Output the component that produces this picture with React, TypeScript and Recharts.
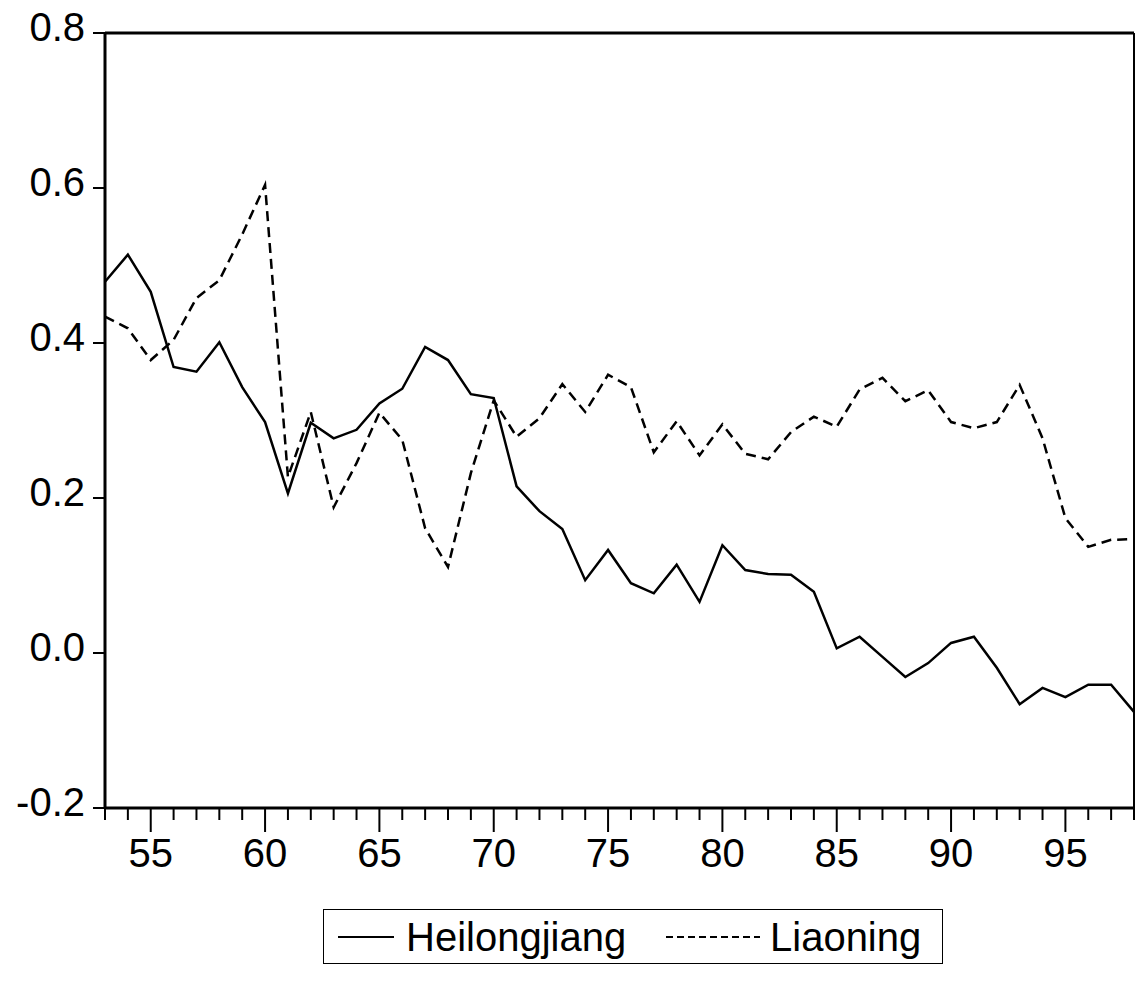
import React from 'react'
import { LineChart, Line, XAxis, YAxis, ReferenceLine } from 'recharts'

// years 1953..1998, shown as two-digit labels
const years = [
  53, 54, 55, 56, 57, 58, 59, 60, 61, 62, 63, 64, 65, 66, 67, 68, 69, 70, 71, 72, 73, 74, 75,
  76, 77, 78, 79, 80, 81, 82, 83, 84, 85, 86, 87, 88, 89, 90, 91, 92, 93, 94, 95, 96, 97, 98,
]

const heilongjiang = [
  0.479, 0.514, 0.466, 0.369, 0.363, 0.401, 0.343, 0.298, 0.206, 0.297,
  0.277, 0.288, 0.322, 0.341, 0.395, 0.378, 0.334, 0.329, 0.215, 0.183,
  0.16, 0.094, 0.133, 0.09, 0.077, 0.114, 0.066, 0.139, 0.107, 0.102,
  0.101, 0.079, 0.006, 0.021, -0.005, -0.031, -0.013, 0.013, 0.021, -0.019,
  -0.066, -0.045, -0.057, -0.041, -0.041, -0.076,
]

const liaoning = [
  0.434, 0.419, 0.378, 0.404, 0.458, 0.481, 0.54, 0.604, 0.227, 0.311,
  0.188, 0.245, 0.31, 0.275, 0.161, 0.111, 0.232, 0.326, 0.279, 0.303,
  0.347, 0.311, 0.359, 0.343, 0.259, 0.299, 0.255, 0.295, 0.257, 0.25,
  0.285, 0.305, 0.292, 0.34, 0.355, 0.325, 0.339, 0.298, 0.29, 0.298,
  0.346, 0.277, 0.174, 0.137, 0.146, 0.147,
]

const yTicks = [-0.2, 0, 0.2, 0.4, 0.6, 0.8]

const FONT = '"Liberation Sans", Arial, Helvetica, sans-serif'

const data = years.map((yr, i) => ({ year: yr, heilongjiang: heilongjiang[i], liaoning: liaoning[i] }))

// every year gets a tick, every fifth a longer one with a label
function YearTick(props: any) {
  const { x, y, payload } = props
  const major = payload.value % 5 === 0
  return (
    <g>
      <line x1={x} y1={y} x2={x} y2={y + (major ? 24 : 12)} stroke="#000" strokeWidth={2} />
      {major && (
        <text x={x} y={y + 59} textAnchor="middle" fontSize={40} fontFamily={FONT} fill="#000">
          {payload.value}
        </text>
      )}
    </g>
  )
}

function ValueTick(props: any) {
  const { x, y, payload } = props
  return (
    <text x={x} y={y + 8} textAnchor="end" fontSize={40} fontFamily={FONT} fill="#000">
      {payload.value.toFixed(1)}
    </text>
  )
}

function LegendBox() {
  return (
    <div
      style={{
        position: 'absolute',
        left: 323,
        top: 909,
        width: 618,
        height: 53,
        border: '1.5px solid #000',
      }}
    >
      <svg width={618} height={53} style={{ position: 'absolute', left: 0, top: 0 }}>
        <line x1={14} y1={27} x2={70} y2={27} stroke="#000" strokeWidth={2} />
        <text x={82} y={41} fontSize={40} fontFamily={FONT}>Heilongjiang</text>
        <line x1={342} y1={27} x2={436} y2={27} stroke="#000" strokeWidth={2} strokeDasharray="7 4" />
        <text x={446} y={41} fontSize={40} fontFamily={FONT}>Liaoning</text>
      </svg>
    </div>
  )
}

export default function App() {
  return (
    <div style={{ position: 'absolute', left: 0, top: 0, width: 1136, height: 988, background: '#fff' }}>
      <LineChart width={1136} height={988} data={data} margin={{ top: 33, right: 2, bottom: 0, left: 0 }}>
        <XAxis
          dataKey="year"
          type="number"
          domain={[53, 98]}
          ticks={years}
          interval={0}
          height={180}
          tickLine={false}
          tickSize={0}
          tickMargin={0}
          tick={<YearTick />}
          axisLine={{ stroke: '#000', strokeWidth: 3 }}
        />
        <YAxis
          type="number"
          domain={[-0.2, 0.8]}
          ticks={yTicks}
          width={105}
          tickSize={12}
          tickMargin={8}
          tick={<ValueTick />}
          tickLine={{ stroke: '#000', strokeWidth: 2 }}
          axisLine={{ stroke: '#000', strokeWidth: 3 }}
        />
        <ReferenceLine y={0.8} stroke="#000" strokeWidth={3} />
        <ReferenceLine x={98} stroke="#000" strokeWidth={2} />
        <Line
          type="linear"
          dataKey="heilongjiang"
          stroke="#000"
          strokeWidth={2.5}
          dot={false}
          isAnimationActive={false}
        />
        <Line
          type="linear"
          dataKey="liaoning"
          stroke="#000"
          strokeWidth={2.5}
          strokeDasharray="10 6"
          dot={false}
          isAnimationActive={false}
        />
      </LineChart>
      <LegendBox />
    </div>
  )
}
